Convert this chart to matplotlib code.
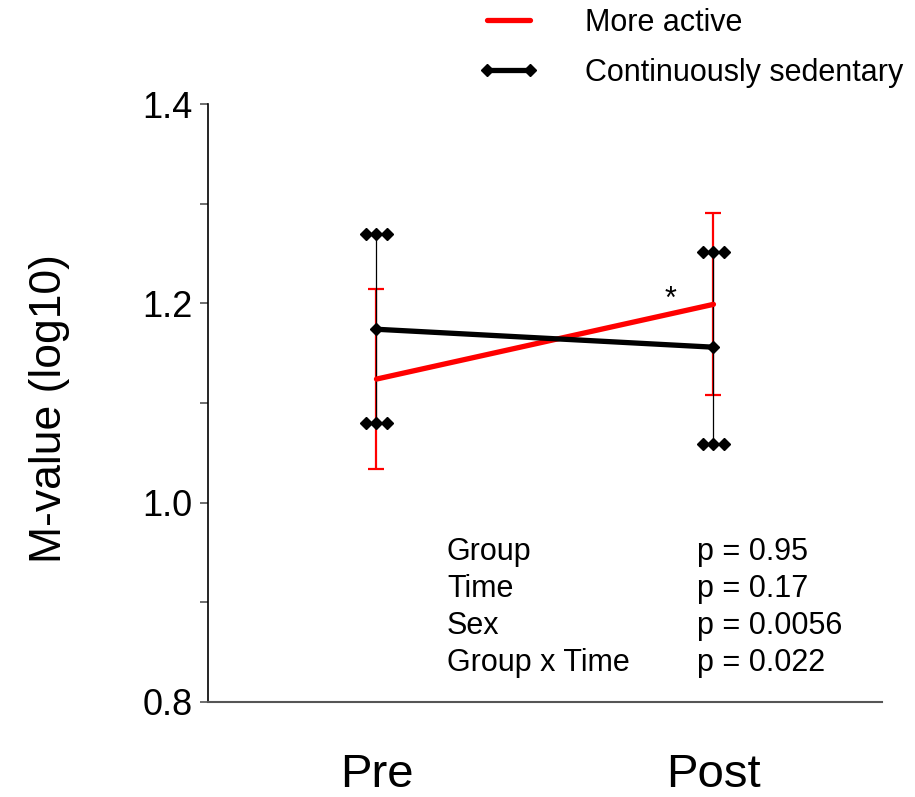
# M-value (log10) pre/post chart, two groups with error bars

import matplotlib
matplotlib.use("Agg")
import matplotlib.pyplot as plt

plt.rcParams["font.family"] = ["Liberation Sans", "DejaVu Sans"]

# ===============================
# 1) DATA
# ===============================
time_labels = ["Pre", "Post"]
x_pos = [0, 1]

active_label = "More active"
active_mean = [1.124, 1.199]
active_low = [1.034, 1.108]
active_high = [1.214, 1.291]

sedentary_label = "Continuously sedentary"
sedentary_mean = [1.174, 1.156]
sedentary_low = [1.080, 1.059]
sedentary_high = [1.270, 1.252]

stat_terms = ["Group", "Time", "Sex", "Group x Time"]
stat_pvalues = ["p = 0.95", "p = 0.17", "p = 0.0056", "p = 0.022"]

y_ticks = [0.8, 0.9, 1.0, 1.1, 1.2, 1.3, 1.4]
y_ticklabels = ["0.8", "", "1.0", "", "1.2", "", "1.4"]

# ===============================
# 2) FIGURE
# ===============================
fig = plt.figure(figsize=(9.15, 7.97), dpi=100)
ax = fig.add_axes([0.2273, 0.1192, 0.7366, 0.7503])

# error bars first (red, then thin black)
act_err = [[m - lo for m, lo in zip(active_mean, active_low)],
           [hi - m for m, hi in zip(active_mean, active_high)]]
ax.errorbar(x_pos, active_mean, yerr=act_err, fmt="none", ecolor="#ff0000",
            elinewidth=1.6, capsize=6, capthick=1.6, zorder=2)

sed_err = [[m - lo for m, lo in zip(sedentary_mean, sedentary_low)],
           [hi - m for m, hi in zip(sedentary_mean, sedentary_high)]]
ax.errorbar(x_pos, sedentary_mean, yerr=sed_err, fmt="none", ecolor="black",
            elinewidth=0.9, capsize=0, zorder=3)

# triple-diamond caps on the black bars
d = 0.03
for x, lo, hi in zip(x_pos, sedentary_low, sedentary_high):
    for yv in (lo, hi):
        ax.plot([x - d, x, x + d], [yv, yv, yv], color="black", lw=1.5,
                marker="D", ms=6, zorder=3)

# mean lines
ax.plot(x_pos, active_mean, color="#ff0000", lw=3.8, solid_capstyle="round",
        label=active_label, zorder=4)
ax.plot(x_pos, sedentary_mean, color="black", lw=3.8, marker="D", ms=6,
        label=sedentary_label, zorder=5)

# significance mark
ax.text(0.872, 1.203, "*", fontsize=22, ha="center", va="center")

# stats table
for i, (term, p) in enumerate(zip(stat_terms, stat_pvalues)):
    yy = 0.2508 - i * 0.0619
    ax.text(0.3546, yy, term, transform=ax.transAxes, fontsize=22, va="center", ha="left")
    ax.text(0.7255, yy, p, transform=ax.transAxes, fontsize=22, va="center", ha="left")

# ===============================
# 3) AXES STYLE
# ===============================
ax.set_xlim(-0.5, 1.5)
ax.set_ylim(0.8, 1.4)
ax.set_yticks(y_ticks)
ax.set_yticklabels(y_ticklabels, fontsize=26)
ax.set_xticks(x_pos)
ax.set_xticklabels(time_labels, fontsize=34)
ax.tick_params(axis="x", length=0, pad=37)
ax.tick_params(axis="y", direction="out", length=6, width=1.2, color="#555555", pad=5)
ax.spines["top"].set_visible(False)
ax.spines["right"].set_visible(False)
ax.spines["left"].set_linewidth(1.2)
ax.spines["bottom"].set_linewidth(1.5)
ax.spines["bottom"].set_color("#555555")
ax.set_ylabel("M-value (log10)", fontsize=32)
ax.yaxis.set_label_coords(-0.205, 0.49)

fig.legend(loc="upper left", bbox_to_anchor=(478 / 915, 1 - 8 / 797),
           frameon=False, fontsize=22, numpoints=2, handlelength=2.0,
           handletextpad=1.5, labelspacing=0.65, borderpad=0, borderaxespad=0)

plt.savefig("out.png", dpi=100)
